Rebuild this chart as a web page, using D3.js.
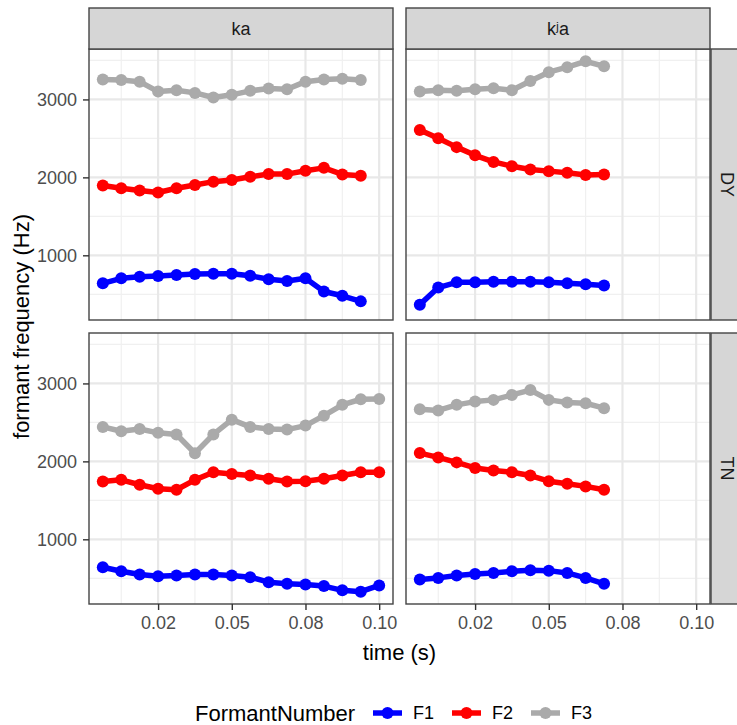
<!DOCTYPE html>
<html>
<head>
<meta charset="utf-8">
<script src="https://cdn.jsdelivr.net/npm/d3@7"></script>
<style>
  body { margin: 0; background: #fff; }
  svg { font-family: "Liberation Sans", Arial, sans-serif; }
</style>
</head>
<body>
<div id="chart"></div>
<script>
// DATA
var times = [0.00625, 0.0125, 0.01875, 0.025, 0.03125, 0.0375, 0.04375, 0.05,
             0.05625, 0.0625, 0.06875, 0.075, 0.08125, 0.0875, 0.09375, 0.1];

var colLabels = ["ka", "k\u02B2a"];
var rowLabels = ["DY", "TN"];
var formants = ["F1", "F2", "F3"];
var formantColors = ["#0000ff", "#ff0000", "#aaaaaa"];

var kaDY_F1 = [641, 705, 726, 734, 747, 759, 764, 764, 738, 692, 671, 705, 536, 481, 409];
var kaDY_F2 = [1895, 1861, 1831, 1806, 1861, 1903, 1945, 1966, 2008, 2042, 2042, 2084, 2122, 2038, 2021];
var kaDY_F3 = [3257, 3249, 3228, 3101, 3118, 3084, 3025, 3059, 3110, 3139, 3131, 3228, 3257, 3266, 3249];

var kjaDY_F1 = [367, 586, 654, 654, 662, 662, 662, 654, 641, 629, 612];
var kjaDY_F2 = [2608, 2502, 2388, 2283, 2198, 2143, 2101, 2080, 2059, 2030, 2038];
var kjaDY_F3 = [3101, 3118, 3110, 3131, 3143, 3118, 3236, 3350, 3414, 3489, 3426];

var kaTN_F1 = [641, 590, 548, 526, 535, 548, 548, 535, 514, 450, 429, 421, 400, 345, 328, 408];
var kaTN_F2 = [1742, 1763, 1700, 1649, 1636, 1763, 1860, 1839, 1818, 1776, 1742, 1746, 1776, 1818, 1860, 1860];
var kaTN_F3 = [2442, 2387, 2416, 2366, 2345, 2104, 2345, 2535, 2442, 2416, 2408, 2459, 2586, 2725, 2797, 2801];

var kjaTN_F1 = [484, 505, 535, 556, 569, 590, 603, 598, 569, 505, 429];
var kjaTN_F2 = [2106, 2051, 1987, 1915, 1882, 1860, 1818, 1746, 1712, 1679, 1636];
var kjaTN_F3 = [2670, 2653, 2725, 2767, 2789, 2852, 2915, 2789, 2755, 2746, 2683];

var xTicks = [0.025, 0.05, 0.075, 0.1];
var xTickLabels = ["0.02", "0.05", "0.08", "0.10"];
var xMinor = [0.0125, 0.0375, 0.0625, 0.0875];
var yTicks = [1000, 2000, 3000];
var yMinor = [500, 1500, 2500, 3500];

// panel table
var panels = [
  {col: 0, row: 0, series: [kaDY_F1, kaDY_F2, kaDY_F3]},
  {col: 1, row: 0, series: [kjaDY_F1, kjaDY_F2, kjaDY_F3]},
  {col: 0, row: 1, series: [kaTN_F1, kaTN_F2, kaTN_F3]},
  {col: 1, row: 1, series: [kjaTN_F1, kjaTN_F2, kjaTN_F3]}
];

// LAYOUT
var width = 737, height = 725;
var panelW = 304, panelH = 271;
var colX = [89, 406];
var rowY = [49, 333];
var stripTop = 41, stripRight = 31;
var tickFont = "18px", titleFont = "22px";

var svg = d3.select("#chart").append("svg")
  .attr("width", width)
  .attr("height", height);

// scales (ggplot style 5% expansion)
var allY = [];
panels.forEach(function(p) { p.series.forEach(function(s) { allY = allY.concat(s); }); });
var yMin = d3.min(allY), yMax = d3.max(allY), yr = yMax - yMin;
var xMin = times[0], xMax = times[times.length - 1], xr = xMax - xMin;

var xScale = d3.scaleLinear()
  .domain([xMin - 0.05 * xr, xMax + 0.05 * xr])
  .range([0, panelW]);
var yScale = d3.scaleLinear()
  .domain([yMin - 0.05 * yr, yMax + 0.05 * yr])
  .range([panelH, 0]);

var line = d3.line()
  .x(function(d) { return xScale(d[0]); })
  .y(function(d) { return yScale(d[1]); });

panels.forEach(function(p) {
  var g = svg.append("g")
    .attr("transform", "translate(" + colX[p.col] + "," + rowY[p.row] + ")");

  g.append("rect").attr("width", panelW).attr("height", panelH).attr("fill", "#fff");

  // minor grid
  g.selectAll(".xminor").data(xMinor).enter().append("line")
    .attr("x1", xScale).attr("x2", xScale).attr("y1", 0).attr("y2", panelH)
    .attr("stroke", "#f0f0f0").attr("stroke-width", 1.2);
  g.selectAll(".yminor").data(yMinor).enter().append("line")
    .attr("y1", yScale).attr("y2", yScale).attr("x1", 0).attr("x2", panelW)
    .attr("stroke", "#f0f0f0").attr("stroke-width", 1.2);
  // major grid
  g.selectAll(".xmajor").data(xTicks).enter().append("line")
    .attr("x1", xScale).attr("x2", xScale).attr("y1", 0).attr("y2", panelH)
    .attr("stroke", "#e8e8e8").attr("stroke-width", 2.2);
  g.selectAll(".ymajor").data(yTicks).enter().append("line")
    .attr("y1", yScale).attr("y2", yScale).attr("x1", 0).attr("x2", panelW)
    .attr("stroke", "#e8e8e8").attr("stroke-width", 2.2);

  // series
  p.series.forEach(function(s, i) {
    var pts = s.map(function(v, k) { return [times[k], v]; });
    g.append("path")
      .datum(pts)
      .attr("d", line)
      .attr("fill", "none")
      .attr("stroke", formantColors[i])
      .attr("stroke-width", 5.5)
      .attr("stroke-linejoin", "round");
    g.selectAll(".pt" + i).data(pts).enter().append("circle")
      .attr("cx", function(d) { return xScale(d[0]); })
      .attr("cy", function(d) { return yScale(d[1]); })
      .attr("r", 6)
      .attr("fill", formantColors[i]);
  });

  // border
  g.append("rect").attr("width", panelW).attr("height", panelH)
    .attr("fill", "none").attr("stroke", "#444").attr("stroke-width", 1.4);

  // y axis on left column
  if (p.col === 0) {
    var ya = g.append("g").call(d3.axisLeft(yScale).tickValues(yTicks).tickSize(6).tickPadding(6).tickFormat(d3.format("d")));
    ya.select(".domain").remove();
    ya.selectAll("line").attr("stroke", "#333").attr("stroke-width", 1.4);
    ya.selectAll("text").attr("fill", "#4d4d4d").style("font-size", tickFont).style("font-family", "Liberation Sans, Arial, sans-serif");
  }
  // x axis on bottom row
  if (p.row === 1) {
    var xa = g.append("g").attr("transform", "translate(0," + panelH + ")")
      .call(d3.axisBottom(xScale).tickValues(xTicks).tickSize(6).tickPadding(6)
        .tickFormat(function(d, i) { return xTickLabels[i]; }));
    xa.select(".domain").remove();
    xa.selectAll("line").attr("stroke", "#333").attr("stroke-width", 1.4);
    xa.selectAll("text").attr("fill", "#4d4d4d").style("font-size", tickFont).style("font-family", "Liberation Sans, Arial, sans-serif");
  }
});

// top strips
colLabels.forEach(function(lab, i) {
  svg.append("rect")
    .attr("x", colX[i]).attr("y", rowY[0] - stripTop)
    .attr("width", panelW).attr("height", stripTop)
    .attr("fill", "#d6d6d6").attr("stroke", "#444").attr("stroke-width", 1.4);
  svg.append("text")
    .attr("x", colX[i] + panelW / 2).attr("y", rowY[0] - stripTop / 2)
    .attr("text-anchor", "middle").attr("dominant-baseline", "central")
    .attr("fill", "#1a1a1a").style("font-size", tickFont)
    .text(lab);
});

// right strips
rowLabels.forEach(function(lab, i) {
  var sx = colX[1] + panelW + 1;
  svg.append("rect")
    .attr("x", sx).attr("y", rowY[i])
    .attr("width", stripRight).attr("height", panelH)
    .attr("fill", "#d6d6d6").attr("stroke", "#444").attr("stroke-width", 1.4);
  svg.append("text")
    .attr("transform", "translate(" + (sx + stripRight / 2) + "," + (rowY[i] + panelH / 2) + ") rotate(90)")
    .attr("text-anchor", "middle").attr("dominant-baseline", "central")
    .attr("fill", "#1a1a1a").style("font-size", tickFont)
    .text(lab);
});

// axis titles
svg.append("text")
  .attr("x", (colX[0] + colX[1] + panelW) / 2).attr("y", 660)
  .attr("text-anchor", "middle").attr("fill", "#000").style("font-size", titleFont)
  .text("time (s)");
svg.append("text")
  .attr("transform", "translate(29," + ((rowY[0] + rowY[1] + panelH) / 2) + ") rotate(-90)")
  .attr("text-anchor", "middle").attr("fill", "#000").style("font-size", titleFont)
  .text("formant frequency (Hz)");

// legend
var legY = 713;
svg.append("text")
  .attr("x", 195).attr("y", legY).attr("dominant-baseline", "central")
  .attr("fill", "#000").style("font-size", titleFont)
  .text("FormantNumber");
var legX = [373, 452, 531];
formants.forEach(function(f, i) {
  var lg = svg.append("g").attr("transform", "translate(" + legX[i] + "," + legY + ")");
  lg.append("line").attr("x1", 0).attr("x2", 29).attr("y1", 0).attr("y2", 0)
    .attr("stroke", formantColors[i]).attr("stroke-width", 5.5);
  lg.append("circle").attr("cx", 14.5).attr("cy", 0).attr("r", 6).attr("fill", formantColors[i]);
  lg.append("text").attr("x", 40).attr("y", 0).attr("dominant-baseline", "central")
    .attr("fill", "#000").style("font-size", tickFont).text(f);
});
</script>
</body>
</html>
